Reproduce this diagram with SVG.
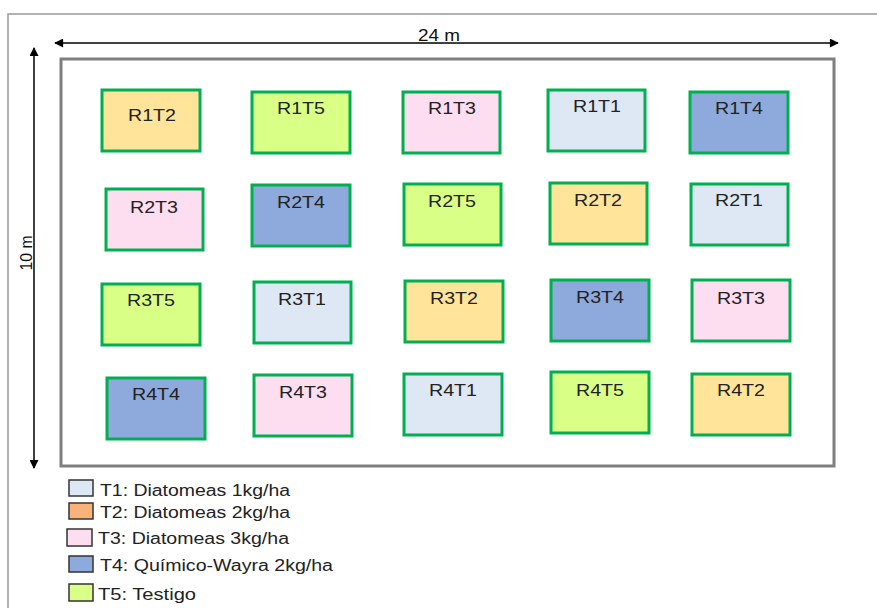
<svg xmlns="http://www.w3.org/2000/svg" width="877" height="608" viewBox="0 0 877 608">
<defs>
<marker id="ah" viewBox="0 0 10 10" refX="9" refY="5" markerWidth="10" markerHeight="9" markerUnits="userSpaceOnUse" orient="auto-start-reverse"><path d="M0,0 L10,5 L0,10 z" fill="#000"/></marker>
</defs>
<style>
.plot rect{stroke:#00B050;stroke-width:3}
.plot text{font-family:"Liberation Sans",Arial,sans-serif;font-size:16px;fill:#222;text-anchor:middle}
.t1{fill:#DEE8F4}.t2{fill:#FFE499}.t3{fill:#FDDDF0}.t4{fill:#8EA9DB}.t5{fill:#D9FF86}
.leg rect{stroke:#333;stroke-width:1.5}
.leg text{font-family:"Liberation Sans",Arial,sans-serif;font-size:16px;fill:#222}
.dim{font-family:"Liberation Sans Narrow","Liberation Sans",Arial,sans-serif;font-size:17px;fill:#111}
</style>
<rect width="877" height="608" fill="#fff"/>
<path d="M8,608 V14 H877" fill="none" stroke="#999" stroke-width="1.5"/>
<rect id="field" x="61" y="59" width="773" height="407" fill="none" stroke="#7f7f7f" stroke-width="3"/>
<g id="connectors" stroke="#000" stroke-width="1.5">
<line x1="55" y1="43" x2="838" y2="43" marker-start="url(#ah)" marker-end="url(#ah)"/>
<line x1="34" y1="48" x2="34" y2="468" marker-start="url(#ah)" marker-end="url(#ah)"/>
</g>
<text class="dim" x="439" y="41" text-anchor="middle" textLength="42" lengthAdjust="spacingAndGlyphs">24 m</text>
<text class="dim" transform="translate(32,253) rotate(-90)" text-anchor="middle" textLength="35" lengthAdjust="spacingAndGlyphs">10 m</text>

<g id="R1T2" class="plot"><rect class="t2" x="102" y="90" width="98" height="61"/><text x="152" y="121" textLength="48" lengthAdjust="spacingAndGlyphs">R1T2</text></g>
<g id="R1T5" class="plot"><rect class="t5" x="252" y="92" width="98" height="61"/><text x="301" y="114" textLength="48" lengthAdjust="spacingAndGlyphs">R1T5</text></g>
<g id="R1T3" class="plot"><rect class="t3" x="403" y="92" width="97" height="61"/><text x="452" y="114" textLength="48" lengthAdjust="spacingAndGlyphs">R1T3</text></g>
<g id="R1T1" class="plot"><rect class="t1" x="548" y="90" width="97" height="61"/><text x="597" y="112" textLength="48" lengthAdjust="spacingAndGlyphs">R1T1</text></g>
<g id="R1T4" class="plot"><rect class="t4" x="690" y="92" width="98" height="61"/><text x="739" y="114" textLength="48" lengthAdjust="spacingAndGlyphs">R1T4</text></g>

<g id="R2T3" class="plot"><rect class="t3" x="106" y="189" width="97" height="61"/><text x="154" y="213" textLength="48" lengthAdjust="spacingAndGlyphs">R2T3</text></g>
<g id="R2T4" class="plot"><rect class="t4" x="252" y="185" width="98" height="61"/><text x="301" y="208" textLength="48" lengthAdjust="spacingAndGlyphs">R2T4</text></g>
<g id="R2T5" class="plot"><rect class="t5" x="404" y="184" width="97" height="61"/><text x="452" y="207" textLength="48" lengthAdjust="spacingAndGlyphs">R2T5</text></g>
<g id="R2T2" class="plot"><rect class="t2" x="550" y="183" width="97" height="61"/><text x="598" y="206" textLength="48" lengthAdjust="spacingAndGlyphs">R2T2</text></g>
<g id="R2T1" class="plot"><rect class="t1" x="691" y="184" width="97" height="61"/><text x="739" y="206" textLength="48" lengthAdjust="spacingAndGlyphs">R2T1</text></g>

<g id="R3T5" class="plot"><rect class="t5" x="102" y="284" width="98" height="61"/><text x="151" y="306" textLength="48" lengthAdjust="spacingAndGlyphs">R3T5</text></g>
<g id="R3T1" class="plot"><rect class="t1" x="254" y="282" width="97" height="61"/><text x="302" y="305" textLength="48" lengthAdjust="spacingAndGlyphs">R3T1</text></g>
<g id="R3T2" class="plot"><rect class="t2" x="405" y="281" width="98" height="61"/><text x="454" y="304" textLength="48" lengthAdjust="spacingAndGlyphs">R3T2</text></g>
<g id="R3T4" class="plot"><rect class="t4" x="551" y="280" width="98" height="61"/><text x="600" y="303" textLength="48" lengthAdjust="spacingAndGlyphs">R3T4</text></g>
<g id="R3T3" class="plot"><rect class="t3" x="692" y="280" width="98" height="61"/><text x="741" y="304" textLength="48" lengthAdjust="spacingAndGlyphs">R3T3</text></g>

<g id="R4T4" class="plot"><rect class="t4" x="107" y="378" width="98" height="61"/><text x="156" y="400" textLength="48" lengthAdjust="spacingAndGlyphs">R4T4</text></g>
<g id="R4T3" class="plot"><rect class="t3" x="254" y="375" width="98" height="61"/><text x="303" y="398" textLength="48" lengthAdjust="spacingAndGlyphs">R4T3</text></g>
<g id="R4T1" class="plot"><rect class="t1" x="404" y="374" width="98" height="61"/><text x="453" y="396" textLength="48" lengthAdjust="spacingAndGlyphs">R4T1</text></g>
<g id="R4T5" class="plot"><rect class="t5" x="551" y="372" width="98" height="61"/><text x="600" y="396" textLength="48" lengthAdjust="spacingAndGlyphs">R4T5</text></g>
<g id="R4T2" class="plot"><rect class="t2" x="692" y="374" width="98" height="61"/><text x="741" y="396" textLength="48" lengthAdjust="spacingAndGlyphs">R4T2</text></g>

<g id="legend" class="leg">
<rect x="69" y="480" width="24" height="16" fill="#DEE8F4"/><text x="100" y="496" textLength="190" lengthAdjust="spacingAndGlyphs">T1: Diatomeas 1kg/ha</text>
<rect x="69" y="503" width="24" height="16" fill="#F9B27A"/><text x="100" y="518" textLength="190" lengthAdjust="spacingAndGlyphs">T2: Diatomeas 2kg/ha</text>
<rect x="67" y="529" width="25" height="17" fill="#FDDDF0"/><text x="98" y="544" textLength="191" lengthAdjust="spacingAndGlyphs">T3: Diatomeas 3kg/ha</text>
<rect x="69" y="556" width="24" height="16" fill="#8EA9DB"/><text x="100" y="571" textLength="233" lengthAdjust="spacingAndGlyphs">T4: Químico-Wayra 2kg/ha</text>
<rect x="69" y="584" width="24" height="17" fill="#D9FF86"/><text x="98" y="600" textLength="98" lengthAdjust="spacingAndGlyphs">T5: Testigo</text>
</g>
</svg>
